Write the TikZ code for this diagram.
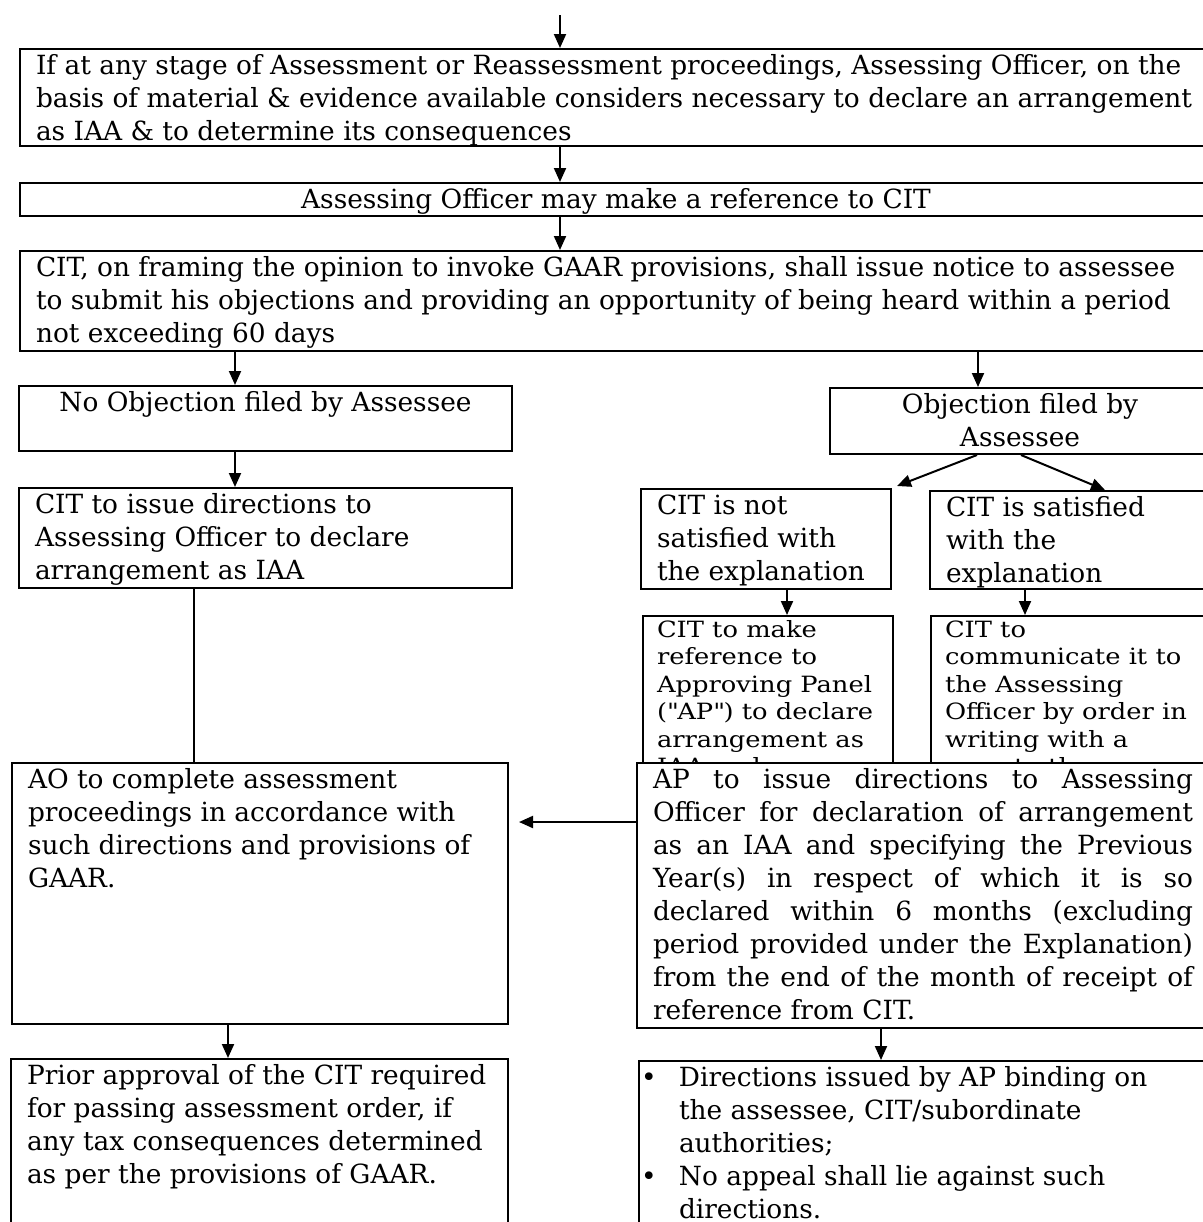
\documentclass[tikz,border=0pt]{standalone}
\usepackage{fontspec}
\setmainfont{DejaVu Serif}
\newfontfamily\widefont[FakeStretch=1.15]{DejaVu Serif}
\usetikzlibrary{arrows.meta, calc, positioning}

% top aligned text block: width, height, alignment, text
\newcommand{\boxtext}[4]{\parbox[t][#2][t]{#1}{#3\strut #4}}

\begin{document}
\begin{tikzpicture}[
    x=0.5pt, y=-0.5pt,
    box/.style={rectangle, draw=black, line width=1pt, fill=white, anchor=north west, inner xsep=8pt, inner ysep=1pt, font=\fontsize{13.2}{16.5}\selectfont},
    smallbox/.style={box, inner xsep=7pt, font=\widefont\fontsize{11.2}{13.75}\selectfont},
    arr/.style={-{Triangle[length=7pt, width=6pt]}, line width=1pt}
]
\useasboundingbox (0,0) rectangle (1203,1222);
\clip (0,0) rectangle (1203,1222);

% columns of the connectors
\coordinate (top) at (560,15);
\coordinate (xl) at (235,0);
\coordinate (xr) at (978,0);
\coordinate (xv) at (194,0);
\coordinate (xa) at (228,0);
\coordinate (xc1) at (787,0);
\coordinate (xc2) at (1025,0);
\coordinate (xd) at (881,0);
\coordinate (yh) at (0,822);

% main chain
\node[box] (s1) at (19,48) {\boxtext{590pt}{46.5pt}{\raggedright}{If at any stage of Assessment or Reassessment proceedings, Assessing Officer, on the\\ basis of material \& evidence available considers necessary to declare an arrangement\\ as IAA \& to determine its consequences}};
\node[box] (s2) at (19,182) {\boxtext{580pt}{14.5pt}{\centering}{Assessing Officer may make a reference to CIT}};
\node[box] (s3) at (19,250) {\boxtext{590pt}{48pt}{\raggedright}{CIT, on framing the opinion to invoke GAAR provisions, shall issue notice to assessee\\ to submit his objections and providing an opportunity of being heard within a period\\ not exceeding 60 days}};

% no objection branch
\node[box] (n1) at (18,385) {\boxtext{230.5pt}{30.5pt}{\centering}{No Objection filed by Assessee}};
\node[box] (n2) at (18,487) {\boxtext{230.5pt}{48pt}{\raggedright}{CIT to issue directions to\\ Assessing Officer to declare\\ arrangement as IAA}};
\node[box] (ao) at (11,762) {\boxtext{232pt}{128.5pt}{\raggedright}{AO to complete assessment\\ proceedings in accordance with\\ such directions and provisions of\\ GAAR.}};
\node[box] (pa) at (10,1058) {\boxtext{232.5pt}{100pt}{\raggedright}{Prior approval of the CIT required\\ for passing assessment order, if\\ any tax consequences determined\\ as per the provisions of GAAR.}};

% objection branch
\node[box] (ob) at (829,387) {\boxtext{174pt}{31pt}{\centering}{Objection filed by\\ Assessee}};
\node[box] (c1) at (640,488) {\boxtext{109pt}{48pt}{\raggedright}{CIT is not\\ satisfied with\\ the explanation}};
\node[box] (c2) at (929,490) {\boxtext{134pt}{47pt}{\raggedright}{CIT is satisfied\\ with the\\ explanation}};
\node[smallbox] (r1) at (642,615) {\boxtext{111pt}{90pt}{\raggedright}{CIT to make\\ reference to\\ Approving Panel\\ (\textquotedbl AP\textquotedbl) to declare\\ arrangement as\\ IAA and}};
\node[smallbox] (r2) at (930,615) {\boxtext{136pt}{90pt}{\raggedright}{CIT to\\ communicate it to\\ the Assessing\\ Officer by order in\\ writing with a\\ copy to the assessee}};
\node[box] (ap) at (636,762) {\boxtext{270pt}{130.5pt}{}{AP to issue directions to Assessing\linebreak Officer for declaration of arrangement\linebreak as an IAA and specifying the Previous\linebreak Year(s) in respect of which it is so\linebreak declared within 6 months (excluding\linebreak period provided under the Explanation)\linebreak from the end of the month of receipt of\linebreak reference from CIT.}};
\node[box, inner xsep=1pt] (d1) at (638,1060) {\parbox[t][100pt][t]{290pt}{\strut\hangindent=19pt\hangafter=1\makebox[19pt][l]{\textbullet}Directions issued by AP binding on\\ the assessee, CIT/subordinate\\ authorities;\par
\hangindent=19pt\hangafter=1\makebox[19pt][l]{\textbullet}No appeal shall lie against such\\ directions.}};

% Arrows
\draw[arr] (top) -- (s1.north -| top);
\draw[arr] (s1.south -| top) -- (s2.north -| top);
\draw[arr] (s2.south -| top) -- (s3.north -| top);
\draw[arr] (s3.south -| xl) -- (n1.north -| xl);
\draw[arr] (s3.south -| xr) -- (ob.north -| xr);
\draw[arr] (n1.south -| xl) -- (n2.north -| xl);
\draw[line width=1pt] (n2.south -| xv) -- (ao.north -| xv);
\draw[arr, shorten >=5pt] (ap.west |- yh) -- (ao.east |- yh);
\draw[arr] (ao.south -| xa) -- (pa.north -| xa);
\draw[arr] ($(ob.south west)+(148,0)$) -- ($(c1.north east)+(5,-2)$);
\draw[arr] ($(ob.south west)+(192,0)$) -- ($(c2.north west)+(176,0)$);
\draw[arr] (c1.south -| xc1) -- (r1.north -| xc1);
\draw[arr] (c2.south -| xc2) -- (r2.north -| xc2);
\draw[arr] (ap.south -| xd) -- (d1.north -| xd);
\end{tikzpicture}
\end{document}
